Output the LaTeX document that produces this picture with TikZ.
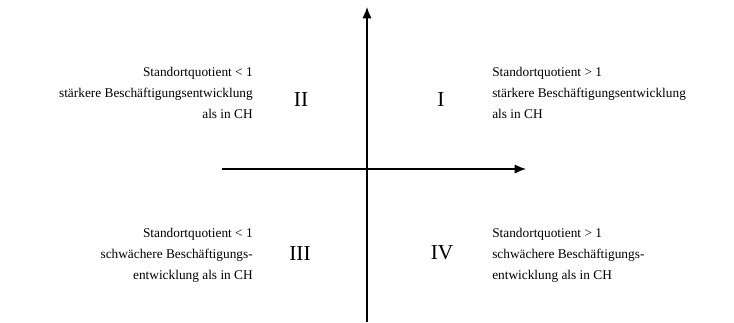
\documentclass[tikz,border=0pt]{standalone}
\usepackage{fontspec}
\setmainfont{Liberation Serif}
\usetikzlibrary{arrows.meta,positioning}

\begin{document}
\begin{tikzpicture}[
    x=0.75pt, y=-0.75pt,
    txt/.style={font=\fontsize{10}{15.75}\selectfont, inner sep=0pt, align=#1},
    quad/.style={font=\fontsize{16}{18}\selectfont, inner sep=0pt},
    axis/.style={-{Latex[length=8.5pt,width=7pt]}, line width=1.1pt}
  ]
  \useasboundingbox (0,0) rectangle (734,322);
  % axes
  \coordinate (xl) at (222,169);
  \coordinate (xr) at (526,169);
  \coordinate (yb) at (367,322);
  \coordinate (yt) at (367,7);
  \draw[axis] (xl) -- (xr);
  \draw[axis] (yb) -- (yt);

  % quadrant labels
  \node[txt=right, anchor=east] (lbII) at (253,93) {Standortquotient < 1\\stärkere Beschäftigungsentwicklung\\als in CH};
  \node[txt=left, anchor=west] (lbI) at (492,93) {Standortquotient > 1\\stärkere Beschäftigungsentwicklung\\als in CH};
  \node[txt=right, anchor=east] (lbIII) at (253,255) {Standortquotient < 1\\schwächere Beschäftigungs-\\entwicklung als in CH};
  \node[txt=left, anchor=west] (lbIV) at (492,255) {Standortquotient > 1\\schwächere Beschäftigungs-\\entwicklung als in CH};

  % roman numerals
  \node[quad] (qII) at (301,100) {II};
  \node[quad] (qI) at (441,100) {I};
  \node[quad] (qIII) at (300,254) {III};
  \node[quad] (qIV) at (442,253) {IV};
\end{tikzpicture}
\end{document}
